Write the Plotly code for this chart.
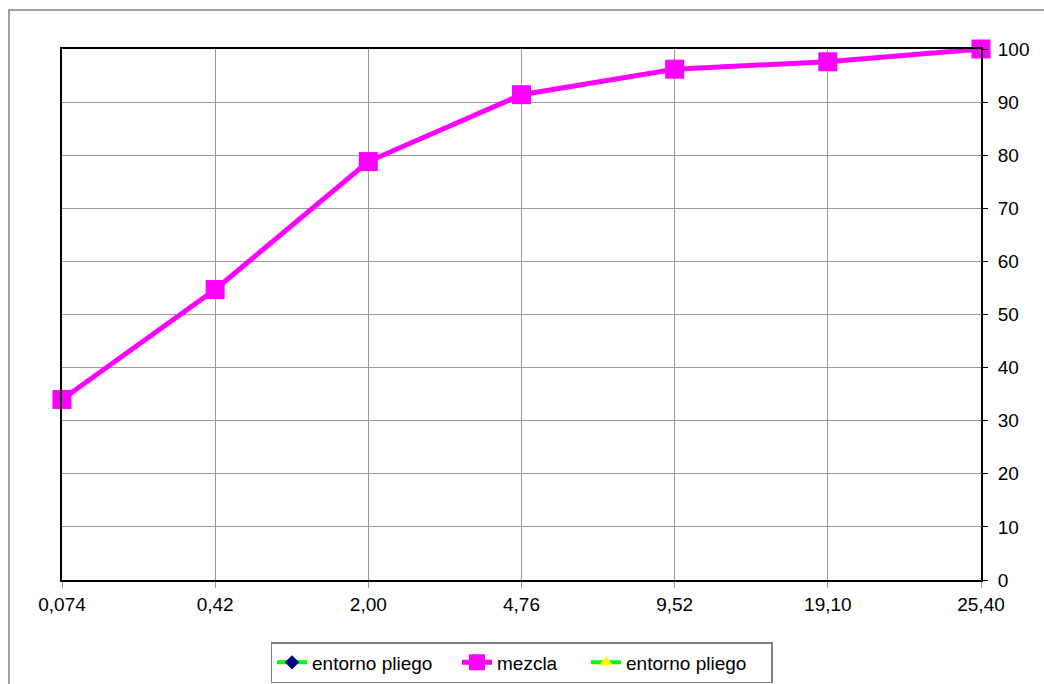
import plotly.graph_objects as go

# Sieve sizes (mm) and cumulative % passing
categorias = ["0,074", "0,42", "2,00", "4,76", "9,52", "19,10", "25,40"]
mezcla = [34.0, 54.7, 78.8, 91.4, 96.2, 97.6, 100.0]
entorno_inf = [None] * len(categorias)
entorno_sup = [None] * len(categorias)
y_ticks = [0, 10, 20, 30, 40, 50, 60, 70, 80, 90, 100]

pos = list(range(len(categorias)))
FONT = "Liberation Sans, Arial, sans-serif"

fig = go.Figure()
fig.add_trace(go.Scatter(
    x=pos, y=entorno_inf, name="entorno pliego", mode="lines+markers",
    line=dict(color="#00FF00", width=4),
    marker=dict(symbol="diamond", size=11, color="#000080"),
    legendwidth=140,
))
fig.add_trace(go.Scatter(
    x=pos, y=mezcla, name="mezcla", mode="lines+markers",
    line=dict(color="#FF00FF", width=5),
    marker=dict(symbol="square", size=19, color="#FF00FF"),
    cliponaxis=False,
    legendwidth=84,
))
fig.add_trace(go.Scatter(
    x=pos, y=entorno_sup, name="entorno pliego", mode="lines+markers",
    line=dict(color="#00FF00", width=4),
    marker=dict(symbol="triangle-up", size=12, color="#FFFF00"),
    legendwidth=140,
))

L, R, T, B = 62, 63, 49, 104
W, H = 1044, 684
pw, ph = W - L - R, H - T - B

def px_x(x):
    return (x - L) / pw

def px_y(y):
    return (H - B - y) / ph

# Outer chart-area frame
fig.add_shape(type="rect", xref="paper", yref="paper",
              x0=px_x(9), x1=px_x(1060), y0=px_y(700), y1=px_y(10),
              line=dict(color="#808080", width=1.5), fillcolor="rgba(0,0,0,0)",
              layer="below")

fig.update_layout(
    width=W, height=H,
    margin=dict(l=L, r=R, t=T, b=B, autoexpand=False),
    paper_bgcolor="white", plot_bgcolor="white",
    font=dict(family=FONT, size=19, color="black"),
    showlegend=True,
    legend=dict(
        orientation="h", x=0.5, xanchor="center", y=px_y(642), yanchor="top",
        bordercolor="#808080", borderwidth=1.5, bgcolor="white",
        font=dict(family=FONT, size=19, color="black"),
        itemsizing="trace", tracegroupgap=0,
    ),
    xaxis=dict(
        range=[0, len(categorias) - 1], automargin=False,
        tickmode="array", tickvals=pos, ticktext=categorias,
        showgrid=True, gridcolor="#9a9a9a", gridwidth=1,
        showline=True, linecolor="black", linewidth=2, mirror=True,
        ticks="outside", ticklen=6, tickcolor="#9a9a9a",
        zeroline=False, fixedrange=True,
    ),
    yaxis=dict(
        range=[0, 100], side="right", automargin=False,
        tickmode="array", tickvals=y_ticks,
        showgrid=True, gridcolor="#9a9a9a", gridwidth=1,
        showline=True, linecolor="black", linewidth=2, mirror=True,
        ticks="outside", ticklen=5, tickcolor="black",
        ticklabelstandoff=6,
        zeroline=False, fixedrange=True,
    ),
)

fig.write_html("out.html")
